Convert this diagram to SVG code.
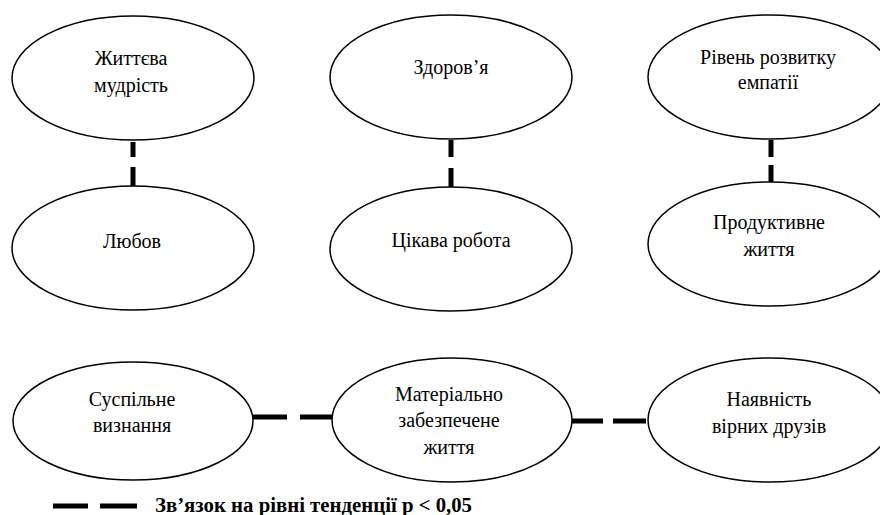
<svg xmlns="http://www.w3.org/2000/svg" width="880" height="515" viewBox="0 0 880 515" font-family="'Times New Roman', 'Liberation Serif', Tinos, 'DejaVu Serif', serif">
<style>
.node ellipse{fill:#fff;stroke:#000;stroke-width:1.5}
.node text{font-size:20px;fill:#000;text-anchor:middle}
.conn{stroke:#000;stroke-width:5;fill:none}
.legend-text{font-size:20px;font-weight:bold;fill:#000}
</style>
<rect width="880" height="515" fill="#fff"/>
<g id="connectors">
<line class="conn" x1="133" y1="142" x2="133" y2="157"/>
<line class="conn" x1="133" y1="167" x2="133" y2="187"/>
<line class="conn" x1="451" y1="140" x2="451" y2="157"/>
<line class="conn" x1="451" y1="168" x2="451" y2="187"/>
<line class="conn" x1="771" y1="140" x2="771" y2="157"/>
<line class="conn" x1="771" y1="165" x2="771" y2="183"/>
<line class="conn" x1="253" y1="417" x2="287" y2="417"/>
<line class="conn" x1="300" y1="417" x2="332" y2="417"/>
<line class="conn" x1="572" y1="421" x2="603" y2="421"/>
<line class="conn" x1="613" y1="421" x2="646" y2="421"/>
</g>
<g id="n1" class="node"><ellipse cx="133" cy="78" rx="121" ry="62"/><text x="131" y="65">Життєва</text><text x="131" y="92">мудрість</text></g>
<g id="n2" class="node"><ellipse cx="451" cy="77" rx="121" ry="62"/><text x="451" y="74">Здоров’я</text></g>
<g id="n3" class="node"><ellipse cx="770" cy="77" rx="122" ry="62"/><text x="768" y="64">Рівень розвитку</text><text x="768" y="89">емпатії</text></g>
<g id="n4" class="node"><ellipse cx="133" cy="248" rx="121" ry="62"/><text x="132" y="248">Любов</text></g>
<g id="n5" class="node"><ellipse cx="451" cy="249" rx="121" ry="62"/><text x="451" y="247">Цікава робота</text></g>
<g id="n6" class="node"><ellipse cx="770" cy="244" rx="122" ry="62"/><text x="769" y="229">Продуктивне</text><text x="769" y="256">життя</text></g>
<g id="n7" class="node"><ellipse cx="133" cy="421" rx="120" ry="59"/><text x="132" y="406">Суспільне</text><text x="132" y="432">визнання</text></g>
<g id="n8" class="node"><ellipse cx="452" cy="420" rx="120" ry="62"/><text x="449" y="401">Матеріально</text><text x="449" y="427">забезпечене</text><text x="449" y="454">життя</text></g>
<g id="n9" class="node"><ellipse cx="770" cy="420" rx="122" ry="62"/><text x="769" y="406">Наявність</text><text x="769" y="433">вірних друзів</text></g>
<g id="legend">
<line class="conn" x1="53" y1="506" x2="88" y2="506" stroke-width="6"/>
<line class="conn" x1="100" y1="506" x2="137" y2="506" stroke-width="6"/>
<text class="legend-text" x="155" y="512" textLength="317" lengthAdjust="spacingAndGlyphs">Зв’язок на рівні тенденції р &lt; 0,05</text>
</g>
</svg>
